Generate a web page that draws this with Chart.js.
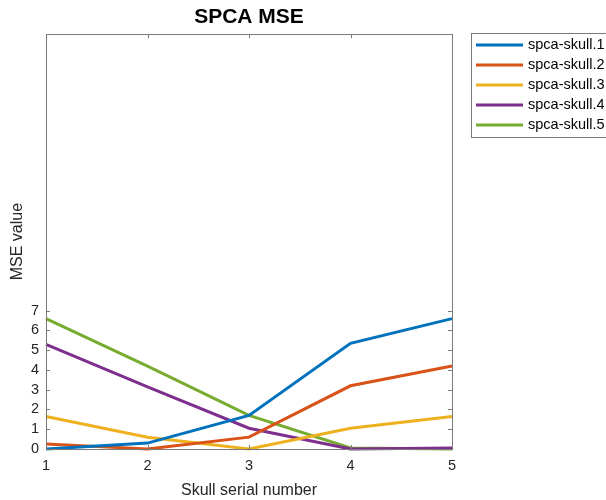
<!DOCTYPE html>
<html lang="en">
<head>
  <meta charset="UTF-8">
  <title>SPCA MSE</title>
  <script src="https://cdn.jsdelivr.net/npm/chart.js"></script>
  <style>
    html, body { margin: 0; padding: 0; background: #fff; }
    #wrap { width: 606px; height: 500px; }
  </style>
</head>
<body>
  <div id="wrap"><canvas id="myChart" width="606" height="500"></canvas></div>

  <script>
    // Skull serial numbers (x axis)
    const skulls = ['1', '2', '3', '4', '5'];
    const yTicks = [0, 1, 2, 3, 4, 5, 6, 7];

    // MSE values
    const skull1 = [0.0, 0.3, 1.7, 5.35, 6.6];
    const skull2 = [0.25, 0.0, 0.6, 3.2, 4.2];
    const skull3 = [1.65, 0.6, 0.0, 1.05, 1.65];
    const skull4 = [5.3, 3.15, 1.05, 0.0, 0.05];
    const skull5 = [6.6, 4.2, 1.7, 0.05, 0.0];

    const seriesNames = ['spca-skull.1', 'spca-skull.2', 'spca-skull.3', 'spca-skull.4', 'spca-skull.5'];
    const seriesColors = ['#0072BD', '#D95319', '#EDB120', '#7E2F8E', '#77AC30'];
    const seriesData = [skull1, skull2, skull3, skull4, skull5];

    const FONT = "'Liberation Sans', Arial, sans-serif";
    const AXIS = '#7a7a7a';

    // box, inward ticks and legend, drawn like a MATLAB figure
    const matlabAxes = {
      id: 'matlabAxes',
      afterDraw(chart) {
        const ctx = chart.ctx;
        const a = chart.chartArea;
        const xs = chart.scales.x, ys = chart.scales.y;
        ctx.save();
        ctx.strokeStyle = AXIS;
        ctx.lineWidth = 1;
        ctx.strokeRect(Math.round(a.left) + 0.5, Math.round(a.top) + 0.5,
          Math.round(a.right - a.left), Math.round(a.bottom - a.top));
        ctx.beginPath();
        const tl = 4;
        skulls.forEach((s, i) => {
          const x = Math.round(xs.getPixelForValue(i)) + 0.5;
          ctx.moveTo(x, a.bottom); ctx.lineTo(x, a.bottom - tl);
          ctx.moveTo(x, a.top); ctx.lineTo(x, a.top + tl);
        });
        yTicks.forEach(v => {
          const y = Math.round(ys.getPixelForValue(v)) + 0.5;
          ctx.moveTo(a.left, y); ctx.lineTo(a.left + tl, y);
          ctx.moveTo(a.right, y); ctx.lineTo(a.right - tl, y);
        });
        ctx.stroke();

        // legend
        const lx = 471, ly = 33, rowH = 20;
        ctx.fillStyle = '#fff';
        ctx.fillRect(lx, ly, 200, rowH * seriesNames.length + 4);
        ctx.strokeStyle = AXIS;
        ctx.strokeRect(lx + 0.5, ly + 0.5, 200, rowH * seriesNames.length + 4);
        ctx.font = '14.5px ' + FONT;
        ctx.textBaseline = 'middle';
        ctx.textAlign = 'left';
        seriesNames.forEach((name, i) => {
          const y = ly + 12 + i * rowH;
          ctx.strokeStyle = seriesColors[i];
          ctx.lineWidth = 3;
          ctx.beginPath();
          ctx.moveTo(476, y); ctx.lineTo(523, y);
          ctx.stroke();
          ctx.fillStyle = '#000';
          ctx.fillText(name, 528, y);
        });
        ctx.restore();
      }
    };

    const ctx = document.getElementById('myChart').getContext('2d');
    new Chart(ctx, {
      type: 'line',
      data: {
        labels: skulls,
        datasets: seriesData.map((d, i) => ({
          label: seriesNames[i],
          data: d,
          borderColor: seriesColors[i],
          backgroundColor: seriesColors[i],
          borderWidth: 3,
          pointRadius: 0,
          tension: 0,
          clip: 6
        }))
      },
      options: {
        responsive: false,
        animation: false,
        layout: { padding: { left: 0, right: 154, top: 0, bottom: 0 } },
        plugins: {
          legend: { display: false },
          tooltip: { enabled: false },
          title: {
            display: true,
            text: 'SPCA MSE',
            fullSize: false,
            color: '#000',
            font: { family: FONT, size: 21, weight: 'bold' },
            padding: { top: 5, bottom: 4 }
          }
        },
        scales: {
          x: {
            offset: false,
            grid: { display: false, drawTicks: false },
            border: { display: false },
            ticks: { color: '#262626', font: { family: FONT, size: 14.5 }, padding: 8, maxRotation: 0 },
            title: {
              display: true,
              text: 'Skull serial number',
              color: '#262626',
              font: { family: FONT, size: 16 },
              padding: { top: 2, bottom: 0 }
            },
            afterFit(scale) { scale.height = 51; }
          },
          y: {
            min: 0,
            max: 21,
            grid: { display: false, drawTicks: false },
            border: { display: false },
            afterBuildTicks(scale) { scale.ticks = yTicks.map(v => ({ value: v })); },
            ticks: { color: '#262626', font: { family: FONT, size: 14.5 }, padding: 7 },
            title: {
              display: true,
              text: 'MSE value',
              color: '#262626',
              font: { family: FONT, size: 16 },
              padding: { top: 8, bottom: 0 }
            },
            afterFit(scale) { scale.width = 46; }
          }
        }
      },
      plugins: [matlabAxes]
    });
  </script>
</body>
</html>
